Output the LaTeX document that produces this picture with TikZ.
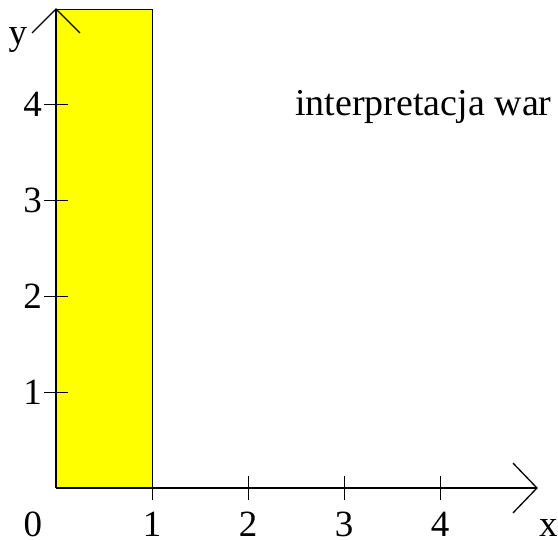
\documentclass[tikz,border=0pt]{standalone}
\usepackage{fontspec}
\setmainfont{Liberation Serif}
\definecolor{pureyellow}{RGB}{255,255,0}
\begin{document}
\begin{tikzpicture}[x=96pt,y=96pt,
  axis/.style={line width=1.3pt,black},
  tickmark/.style={line width=0.9pt,black},
  lab/.style={inner sep=0pt,font=\fontsize{37}{44}\selectfont}]
\useasboundingbox (-0.5833,-0.53125) rectangle (5.229,5.0833);
\coordinate (O) at (0,0);
\coordinate (ytip) at (0,4.99);
\coordinate (xtip) at (5.01,0);
\filldraw[fill=pureyellow,draw=black,line width=0.7pt] (O) rectangle (1,4.99);
\draw[axis] (O) -- (ytip);
\draw[axis] (O) -- (xtip);
\draw[axis] (-0.25,4.74) -- (ytip) -- (0.25,4.74);
\draw[axis] (4.76,0.26) -- (xtip) -- (4.76,-0.26);
\foreach \k in {1,2,3,4} {
  \draw[tickmark] (-0.125,\k) -- (0.125,\k);
  \draw[tickmark] (\k,-0.125) -- (\k,0.125);
  \node[lab,anchor=east] (ylab\k) at (-0.146,\k) {\k};
  \node[lab,anchor=base] (xlab\k) at (\k,-0.5) {\k};
}
\node[lab,anchor=base] (xlab0) at (-0.24,-0.5) {0};
\node[lab,anchor=base] (xname) at (5.13,-0.5) {x};
\node[lab,anchor=base] (yname) at (-0.396,4.615) {y};
\node[lab,anchor=base west,font=\fontsize{38}{44}\selectfont] (txt) at (2.49,3.885) {interpretacja war};
\end{tikzpicture}
\end{document}
